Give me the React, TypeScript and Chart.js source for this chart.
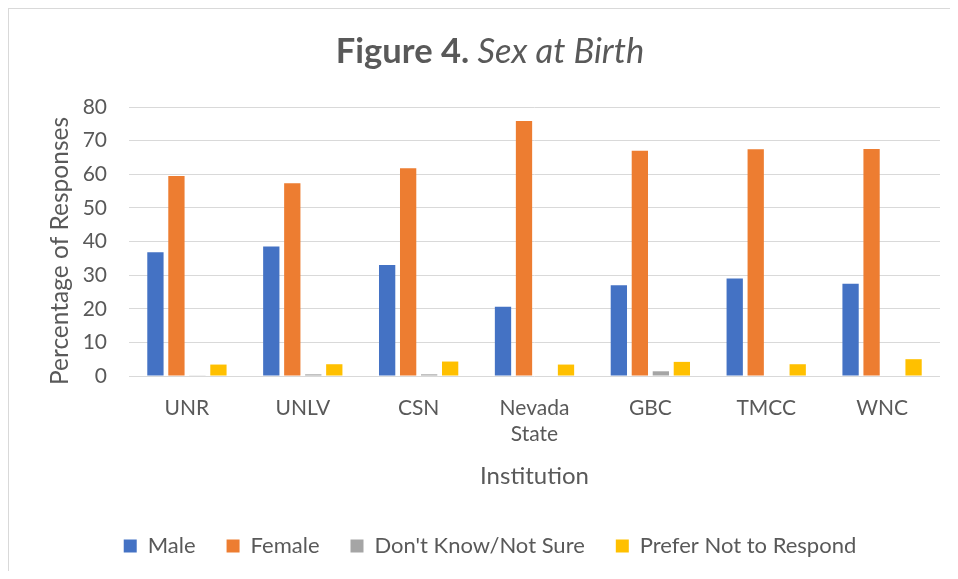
import React, { useEffect, useRef } from 'react';
import { Chart, registerables } from 'chart.js';

Chart.register(...registerables);

const categories: (string | string[])[] = ['UNR', 'UNLV', 'CSN', ['Nevada', 'State'], 'GBC', 'TMCC', 'WNC'];
const seriesNames = ['Male', 'Female', "Don't Know/Not Sure", 'Prefer Not to Respond'];
const male = [36.8, 38.5, 33.0, 20.6, 27.0, 29.0, 27.4];
const female = [59.5, 57.3, 61.8, 75.8, 67.0, 67.4, 67.5];
const dontKnow = [0.1, 0.5, 0.5, 0, 1.4, 0, 0];
const preferNot = [3.4, 3.5, 4.3, 3.4, 4.2, 3.5, 5.0];
const yMin = 0;
const yMax = 80;
const yStep = 10;
const titleBold = 'Figure 4. ';
const titleItalic = 'Sex at Birth';
const yTitle = 'Percentage of Responses';
const xTitle = 'Institution';

const colors = ['#4472C4', '#ED7D31', '#A5A5A5', '#FFC000'];
const FONT = 'Lato';
const TEXT = '#595959';

export default function App() {
  const ref = useRef<HTMLCanvasElement | null>(null);

  useEffect(() => {
    const canvas = ref.current;
    if (!canvas) return;

    const framePlugin = {
      id: 'frame',
      beforeDraw(chart: any) {
        const ctx = chart.ctx;
        ctx.save();
        ctx.fillStyle = '#ffffff';
        ctx.fillRect(0, 0, chart.width, chart.height);
        ctx.strokeStyle = '#d9d9d9';
        ctx.lineWidth = 1;
        ctx.strokeRect(0.5, 0.5, chart.width - 1, chart.height - 1);
        ctx.restore();
      },
      afterDraw(chart: any) {
        const ctx = chart.ctx;
        ctx.save();
        // Title with mixed bold / italic
        const ts = 34.5;
        const bold = `bold ${ts}px ${FONT}`;
        const ital = `italic ${ts}px ${FONT}`;
        ctx.font = bold;
        const w1 = ctx.measureText(titleBold).width;
        ctx.font = ital;
        const w2 = ctx.measureText(titleItalic).width;
        const x0 = 482 - (w1 + w2) / 2;
        ctx.fillStyle = TEXT;
        ctx.textBaseline = 'alphabetic';
        ctx.textAlign = 'left';
        ctx.font = bold;
        ctx.fillText(titleBold, x0, 54.5);
        ctx.font = ital;
        ctx.fillText(titleItalic, x0 + w1, 54.5);
        // Y axis title
        ctx.translate(52.5, 243);
        ctx.rotate(-Math.PI / 2);
        ctx.font = `24.5px ${FONT}`;
        ctx.textAlign = 'center';
        ctx.textBaseline = 'middle';
        ctx.fillText(yTitle, 0, 0);
        ctx.restore();
      },
    };

    const data = [male, female, dontKnow, preferNot];

    const chart = new Chart(canvas, {
      type: 'bar',
      data: {
        labels: categories as any,
        datasets: data.map((d, i) => ({
          label: seriesNames[i],
          data: d,
          backgroundColor: colors[i],
          borderWidth: 0,
          categoryPercentage: 0.725,
          barPercentage: 0.776,
        })),
      },
      options: {
        responsive: false,
        animation: false,
        layout: { padding: { left: 32, right: 32, top: 99, bottom: 12 } },
        plugins: {
          title: { display: false },
          tooltip: { enabled: false },
          legend: {
            position: 'bottom',
            labels: {
              boxWidth: 13,
              boxHeight: 13,
              padding: 31,
              color: TEXT,
              font: { family: FONT, size: 22 },
            },
          },
        },
        scales: {
          x: {
            afterFit: (s: any) => { s.height = 128; },
            grid: { display: false, drawTicks: false },
            border: { display: false },
            ticks: {
              color: TEXT,
              padding: 19,
              font: { family: FONT, size: 21, lineHeight: 1.25 },
            },
            title: {
              display: true,
              text: xTitle,
              color: TEXT,
              font: { family: FONT, size: 24 },
              padding: { top: 0, bottom: 13.6 },
            },
          },
          y: {
            min: yMin,
            max: yMax,
            afterFit: (s: any) => { s.width = 89; },
            grid: { color: '#d9d9d9', lineWidth: 1, drawTicks: false },
            border: { display: false },
            ticks: {
              stepSize: yStep,
              color: TEXT,
              padding: 22,
              font: { family: FONT, size: 21 },
            },
          },
        },
      },
      plugins: [framePlugin],
    });

    return () => chart.destroy();
  }, []);

  return (
    <div style={{ width: 950, height: 563, overflow: 'hidden' }}>
      <canvas ref={ref} width={964} height={571} style={{ display: 'block' }} />
    </div>
  );
}
